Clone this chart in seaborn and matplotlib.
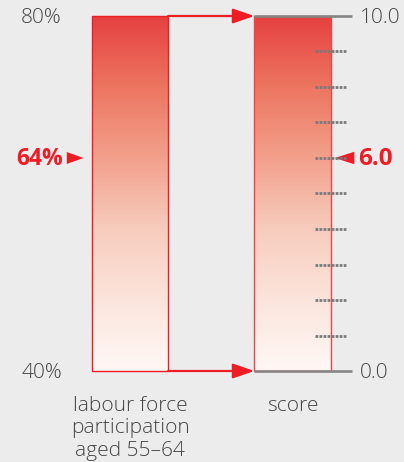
import numpy as np
import matplotlib
matplotlib.use("Agg")
import matplotlib.pyplot as plt
from matplotlib.colors import LinearSegmentedColormap
import seaborn as sns

# data
categories = ["labour force\nparticipation\naged 55\u201364", "score"]
pct_range = [40, 80]        # left scale (%)
score_range = [0, 10]       # right scale
pct_value = 64
score_value = 6.0
score_minor = [1, 2, 3, 4, 5, 6, 7, 8, 9]

RED = "#ee1c25"
BG = "#ececec"
GREY_TXT = "#444444"
GREY_LN = "#858585"

sns.set_style("white")
plt.rcParams["font.family"] = ["Open Sans", "DejaVu Sans"]

grad = LinearSegmentedColormap.from_list(
    "bar", ["#fff8f5", "#fbe4dc", "#f7ccbd", "#f2a08b", "#ec7560", "#e64040"])

fig = plt.figure(figsize=(4.04, 4.62), dpi=100, facecolor=BG)
ax = fig.add_axes([62 / 404, 91 / 462, 290 / 404, 355 / 462])
ax.set_facecolor("none")
ax2 = ax.twinx()

sns.barplot(x=[categories[0]], y=[pct_range[1] - pct_range[0]], order=categories,
            bottom=pct_range[0], width=0.47, color=RED, errorbar=None, ax=ax)
sns.barplot(x=[categories[1]], y=[score_range[1] - score_range[0]], order=categories,
            bottom=score_range[0], width=0.47, color=RED, errorbar=None, ax=ax2)

xlim = (-0.4185, 1.366)

# gradient fill clipped to each bar
for a, ec in ((ax, RED), (ax2, "#f04448")):
    for p in a.patches:
        p.set_facecolor("none")
        p.set_edgecolor(ec)
        p.set_linewidth(1)
        p.set_zorder(3)
        p.set_clip_on(False)
        x0, y0 = p.get_x(), p.get_y()
        im = a.imshow(np.linspace(1, 0, 256).reshape(-1, 1), cmap=grad,
                      extent=(x0, x0 + p.get_width(), y0, y0 + p.get_height()),
                      aspect="auto", zorder=2, origin="upper")
        im.set_clip_path(p)

left_bar = ax.patches[0]
right_bar = ax2.patches[0]
lb_r = left_bar.get_x() + left_bar.get_width()
rb_l = right_bar.get_x()
rb_r = rb_l + right_bar.get_width()

ax.set_xlim(*xlim)
ax.set_ylim(*pct_range)
ax2.set_ylim(*score_range)

# grey end lines on the score bar
frac = (rb_l - xlim[0]) / (xlim[1] - xlim[0])
for v in score_range:
    ax2.axhline(v, xmin=frac, xmax=1, color=GREY_LN, lw=1.9, zorder=4,
                clip_on=False, solid_capstyle="butt")

# dotted minor ticks
for v in score_minor:
    ax2.plot([rb_r - 0.095, rb_r + 0.095], [v, v], color="#7a7a7a", lw=2,
             dashes=(1, 0.45), zorder=4)

# connector arrows
for v in score_range:
    ax2.annotate("", xy=(rb_l, v), xytext=(lb_r, v),
                 arrowprops=dict(arrowstyle="-|>,head_length=1.3,head_width=0.45",
                                 color=RED, lw=1.6, shrinkA=0, shrinkB=0),
                 zorder=5, annotation_clip=False)

# value markers
ax.annotate("", xy=(left_bar.get_x(), pct_value), xytext=(-18, 0),
            textcoords="offset points",
            arrowprops=dict(arrowstyle="-|>,head_length=1.2,head_width=0.43",
                            color=RED, lw=0, shrinkA=0, shrinkB=6))
ax.annotate(f"{pct_value}%", xy=(left_bar.get_x(), pct_value), xytext=(-21, -1),
            textcoords="offset points", ha="right", va="center",
            fontsize=16.5, fontweight="bold", color=RED)
ax2.annotate("", xy=(rb_r, score_value), xytext=(17, 0),
             textcoords="offset points",
             arrowprops=dict(arrowstyle="-|>,head_length=1.4,head_width=0.45",
                             color=RED, lw=0, shrinkA=0, shrinkB=3))
ax2.annotate(f"{score_value:.1f}", xy=(rb_r, score_value), xytext=(20, -1),
             textcoords="offset points", ha="left", va="center",
             fontsize=17.5, fontweight="bold", color=RED)

# axes ticks
ax.set_yticks(pct_range, [f"{v}%" for v in pct_range])
ax2.set_yticks(score_range, [f"{v:.1f}" for v in score_range])
ax.tick_params(axis="y", length=0, pad=0, labelsize=15, labelcolor=GREY_TXT)
ax2.tick_params(axis="y", length=0, pad=6, labelsize=15, labelcolor=GREY_TXT)
ax.tick_params(axis="x", length=0, pad=18, labelsize=15, labelcolor=GREY_TXT)
for t in ax.get_xticklabels():
    t.set_linespacing(1.16)
for t in ax.get_yticklabels() + ax2.get_yticklabels() + ax.get_xticklabels():
    t.set_fontweight("light")
ax.set_xlabel("")
ax.set_ylabel("")
ax2.set_ylabel("")
for a in (ax, ax2):
    for s in a.spines.values():
        s.set_visible(False)
    a.grid(False)

fig.savefig("out.png", dpi=100, facecolor=BG)
